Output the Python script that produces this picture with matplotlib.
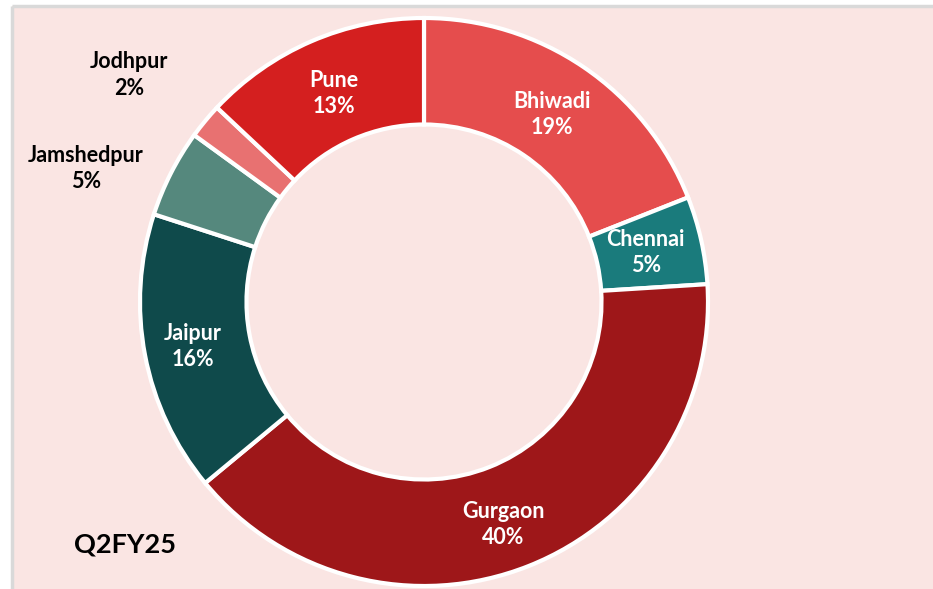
import numpy as np
import matplotlib
matplotlib.use("Agg")
import matplotlib.pyplot as plt

# ---- data ----
cities = ["Bhiwadi", "Chennai", "Gurgaon", "Jaipur", "Jamshedpur", "Jodhpur", "Pune"]
shares = [19, 5, 40, 16, 5, 2, 13]
period = "Q2FY25"

# ---- style ----
colors = ["#E54D4D", "#1A7B7C", "#9E1719", "#0F4A4B", "#55887D", "#E87171", "#D41F1F"]
label_dist = [0.80, 0.80, 0.83, 0.83, 1.28, 1.31, 0.80]
angle_nudge = [0, 0, -2, 0, 5.5, 2, 0]
outside = [False, False, False, False, True, True, False]
bg = "#FAE5E3"
W, H = 933, 589
cx, cy, R = 424, 287, 284
FONT = ["Lato", "DejaVu Sans"]

fig = plt.figure(figsize=(W / 100, H / 100), dpi=100)
fig.patch.set_facecolor("white")
ax = fig.add_axes([0, 0, 1, 1])

# panel background, light gray border on top and left only
ax.add_patch(plt.Rectangle((12, 0), W, H - 6, facecolor=bg, edgecolor="none", zorder=0))
ax.plot([12, W], [H - 6, H - 6], color="#D9D9D9", lw=2.5, zorder=0.5, solid_capstyle="butt")
ax.plot([12, 12], [0, H - 6], color="#D9D9D9", lw=2.5, zorder=0.5, solid_capstyle="butt")

wedges, _ = ax.pie(shares, colors=colors, startangle=90, counterclock=False,
                   center=(cx, cy), radius=R, frame=True,
                   wedgeprops=dict(width=R * 0.375, edgecolor="white", linewidth=3))
ax.set_xlim(0, W)
ax.set_ylim(0, H)
ax.set_aspect("equal")
ax.axis("off")

for w, name, val, d, nud, out in zip(wedges, cities, shares, label_dist, angle_nudge, outside):
    ang = np.deg2rad((w.theta1 + w.theta2) / 2 + nud)
    x = cx + R * d * np.cos(ang)
    y = cy + R * d * np.sin(ang)
    ax.text(x, y, f"{name}\n{val}%", ha="center", va="center",
            color="black" if out else "white", fontsize=15.5, fontweight="bold",
            family=FONT, linespacing=1.3, zorder=5)

ax.text(125, H - 545, period, ha="center", va="center", fontsize=19.5,
        fontweight="bold", family=FONT, color="black", zorder=5)

fig.savefig("out.png", dpi=100, facecolor="white")
